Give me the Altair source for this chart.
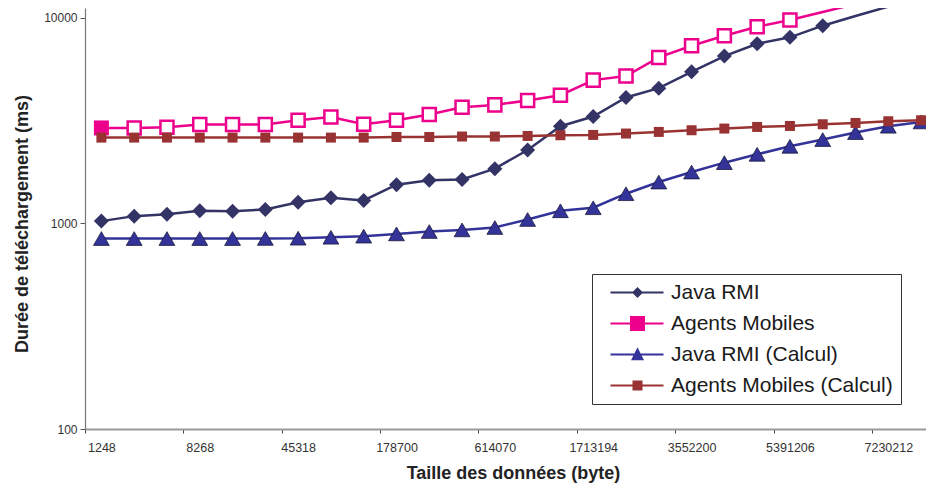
import json
import altair as alt
import pandas as pd

# ---- data ----
size_labels = ["1248", "8268", "45318", "178700", "614070",
               "1713194", "3552200", "5391206", "7230212"]
label_step = 3

java_rmi = [1027, 1086, 1110, 1153, 1148, 1170, 1270, 1335, 1295, 1544,
            1622, 1639, 1848, 2279, 2973, 3315, 4104, 4554, 5470, 6527,
            7493, 8052, 9174, 10230, 11360, 14000]
agents_mobiles = [2917, 2917, 2940, 3030, 3030, 3030, 3180, 3300, 3040, 3180,
                  3390, 3680, 3777, 3968, 4211, 4985, 5215, 6430, 7328, 8200,
                  9072, 9770, 10690, 11700, 12300, 13500]
java_rmi_calcul = [845, 845, 845, 845, 845, 846, 848, 857, 868, 890,
                   914, 931, 956, 1046, 1153, 1193, 1396, 1591, 1780, 1977,
                   2171, 2375, 2561, 2770, 2973, 3120]
agents_mobiles_calcul = [2618, 2618, 2618, 2618, 2618, 2618, 2618, 2618, 2618, 2636,
                         2636, 2650, 2650, 2667, 2688, 2698, 2740, 2790, 2843, 2897,
                         2950, 2983, 3040, 3085, 3145, 3180]

series_names = ["Java RMI", "Agents Mobiles", "Java RMI (Calcul)", "Agents Mobiles (Calcul)"]
series_colors = ["#333366", "#EC008C", "#333399", "#993333"]

# legend symbols: line + marker (custom SVG paths, unit = sqrt(symbolSize)/2)
legend_paths = [
    "M0,-0.1H5.3V0.1H0Z M2.7,-0.55L3.25,0L2.7,0.55L2.15,0Z",
    "M0,-0.1H5.3V0.1H0Z M1.95,-0.75H3.45V0.75H1.95Z",
    "M0,-0.1H5.3V0.1H0Z M2.7,-0.72L3.35,0.58L2.05,0.58Z",
    "M0,-0.1H5.3V0.1H0Z M2.2,-0.5H3.2V0.5H2.2Z",
]

FONT = "Liberation Sans"


def frame(values, name):
    return pd.DataFrame({"idx": list(range(len(values))), "value": values, "series": name})


df_jr = frame(java_rmi, series_names[0])
df_am = frame(agents_mobiles, series_names[1])
df_jc = frame(java_rmi_calcul, series_names[2])
df_ac = frame(agents_mobiles_calcul, series_names[3])
long_df = pd.concat([df_jr, df_am, df_jc, df_ac], ignore_index=True)

x_scale = alt.Scale(domain=[-0.5, 25.15], nice=False, zero=False)
y_scale = alt.Scale(type="log", domain=[100, 11185], nice=False, clamp=False)

tick_values = [k * label_step - 0.5 for k in range(len(size_labels))]
label_expr = json.dumps(size_labels) + "[round((datum.value + 0.5) / %d)]" % label_step

x_axis = alt.Axis(
    values=tick_values, labelExpr=label_expr, labelOffset=16.4,
    tickSize=4, tickColor="#444", tickWidth=1,
    labelPadding=8, labelFont=FONT, labelFontSize=12.5, labelColor="#333",
    labelFlush=False, labelOverlap=False, labelBound=False,
    domainColor="#999", domainWidth=2, grid=False,
    title="Taille des données (byte)", titleFont=FONT, titleFontSize=18,
    titleFontWeight="bold", titleColor="#222", titleX=428, titleY=35,
    titleBaseline="top", titleAlign="center",
)
y_axis = alt.Axis(
    values=[100, 1000, 10000], format="d",
    tickSize=5, tickColor="#555", tickWidth=1,
    labelPadding=3, labelFont=FONT, labelFontSize=12, labelColor="#333",
    labelFlush=False, labelOverlap=False,
    domainColor="#777", domainWidth=1.2, grid=False,
    title="Durée de téléchargement (ms)", titleFont=FONT, titleFontSize=18,
    titleFontWeight="bold", titleColor="#222", titleX=-54, titleY=215.5,
    titleAngle=270, titleBaseline="bottom", titleAlign="center",
)

X = alt.X("idx:Q", scale=x_scale, axis=x_axis)
Y = alt.Y("value:Q", scale=y_scale, axis=y_axis)

marker_filter = "datum.value < 10000"

layers = []

# Java RMI
layers.append(alt.Chart(df_jr).mark_line(clip=True, color=series_colors[0], strokeWidth=2.5).encode(x=X, y=Y))
layers.append(alt.Chart(df_jr).transform_filter(marker_filter).mark_point(
    shape="diamond", filled=True, size=225, color=series_colors[0], opacity=1).encode(x=X, y=Y))

# Agents Mobiles
layers.append(alt.Chart(df_am).mark_line(clip=True, color=series_colors[1], strokeWidth=2.5).encode(x=X, y=Y))
layers.append(alt.Chart(df_am).transform_filter(marker_filter + " && datum.idx > 0").mark_point(
    shape="square", filled=True, size=170, fill="white", stroke=series_colors[1],
    strokeWidth=2.5, opacity=1).encode(x=X, y=Y))
layers.append(alt.Chart(df_am).transform_filter("datum.idx == 0").mark_point(
    shape="square", filled=True, size=225, color=series_colors[1], opacity=1).encode(x=X, y=Y))

# Java RMI (Calcul)
layers.append(alt.Chart(df_jc).mark_line(clip=True, color=series_colors[2], strokeWidth=2.5).encode(x=X, y=Y))
layers.append(alt.Chart(df_jc).mark_point(
    shape="triangle-up", filled=True, size=250, fill=series_colors[2], stroke="#1c1c3c",
    strokeWidth=0.8, opacity=1).encode(x=X, y=Y))

# Agents Mobiles (Calcul)
layers.append(alt.Chart(df_ac).mark_line(clip=True, color=series_colors[3], strokeWidth=2.5).encode(x=X, y=Y))
layers.append(alt.Chart(df_ac).mark_point(
    shape="square", filled=True, size=100, color=series_colors[3], opacity=1).encode(x=X, y=Y))

# legend driver (its own marks sit far outside the clipped plot)
legend = alt.Legend(
    title=None, orient="none", legendX=507, legendY=266,
    symbolSize=400, symbolStrokeWidth=0, symbolOpacity=1,
    labelFont=FONT, labelFontSize=21, labelColor="#1a1a1a", labelOffset=50,
    labelLimit=0, rowPadding=9, padding=8,
    strokeColor="#333", fillColor="white",
)
layers.append(
    alt.Chart(long_df)
    .transform_filter("datum.idx == 0")
    .transform_calculate(hidden="datum.value * 1000000")
    .mark_point(filled=True, clip=True, size=400, opacity=1)
    .encode(
        x=X,
        y=alt.Y("hidden:Q", scale=y_scale, axis=y_axis),
        color=alt.Color("series:N", scale=alt.Scale(domain=series_names, range=series_colors), legend=legend),
        shape=alt.Shape("series:N", scale=alt.Scale(domain=series_names, range=legend_paths), legend=legend),
    )
)

chart = alt.layer(*layers).properties(
    width=841, height=421,
    padding={"left": 77, "top": 0, "right": 0, "bottom": 54},
    autosize=alt.AutoSizeParams(type="none"),
    background="white",
).configure_view(stroke="transparent")

chart.save("out.html", embed_options={"renderer": "svg", "actions": False})
